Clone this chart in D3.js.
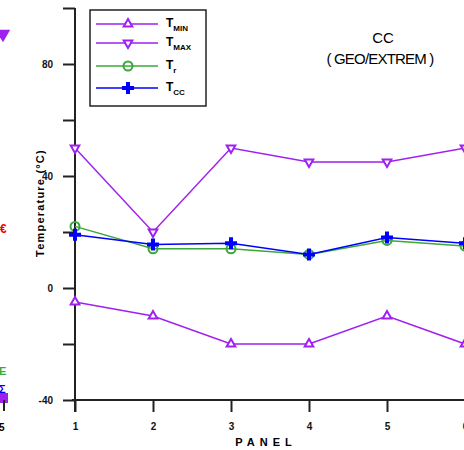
<title>CC (GEO/EXTREM) temperatures</title>
<script src="https://d3js.org/d3.v7.min.js"></script>
<style>
    body {
        margin: 0;
        background: #fff;
        font-family: "Liberation Sans", Arial, sans-serif;
    }
</style>
<body></body>
<script>
    // panel numbers along the x axis
    var panels = [1, 2, 3, 4, 5, 6];
    // temperatures (deg C)
    var tMin = [-5, -10, -20, -20, -10, -20];
    var tMax = [50, 20, 50, 45, 45, 50];
    var tR = [22, 14, 14, 12, 17, 15];
    var tCc = [19, 15.5, 16, 12, 18, 16];
    var yTicks = [-40, -20, 0, 20, 40, 60, 80, 100];
    var yLabels = [-40, 0, 40, 80];

    var W = 464, H = 450;
    var purple = "#a020f0", green = "#3aa83a", blue = "#0000ff", axisCol = "#222";

    var svg = d3.select("body").append("svg")
        .attr("width", W).attr("height", H)
        .style("display", "block");

    var x = d3.scaleLinear().domain([1, 6]).range([75, 465]);
    var y = d3.scaleLinear().domain([-40, 100]).range([400, 8]);

    // bits of the neighbouring panel that show on the left edge
    var edge = svg.append("g");
    edge.append("path").attr("d", d3.symbol(d3.symbolTriangle, 90)())
        .attr("transform", "translate(3,34) rotate(180)").attr("fill", purple);
    edge.append("text").attr("x", 0).attr("y", 233).text("€")
        .attr("fill", "#e00").attr("font-size", 12).attr("font-weight", "bold");
    edge.append("text").attr("x", -1).attr("y", 375).text("E")
        .attr("fill", green).attr("font-size", 11).attr("font-weight", "bold");
    edge.append("text").attr("x", -1).attr("y", 393).text("Σ")
        .attr("fill", blue).attr("font-size", 11).attr("font-weight", "bold");
    edge.append("rect").attr("x", 0).attr("y", 393).attr("width", 8).attr("height", 10).attr("fill", purple);
    edge.append("line").attr("x1", 4).attr("x2", 4).attr("y1", 400).attr("y2", 411)
        .attr("stroke", axisCol).attr("stroke-width", 2);
    edge.append("text").attr("x", -1).attr("y", 431).text("5")
        .attr("font-size", 10).attr("font-weight", "bold");

    // axes
    var yAxis = d3.axisLeft(y).tickValues(yTicks).tickSize(12)
        .tickFormat(function (d) { return yLabels.indexOf(d) >= 0 ? d : ""; });
    var gy = svg.append("g").attr("transform", "translate(75,0)").call(yAxis);
    var xAxis = d3.axisBottom(x).tickValues(panels).tickSize(12).tickSizeOuter(0)
        .tickFormat(d3.format("d"));
    var gx = svg.append("g").attr("transform", "translate(0,400)").call(xAxis);
    [gx, gy].forEach(function (g) {
        g.select(".domain").attr("stroke", axisCol).attr("stroke-width", 2);
        g.selectAll(".tick line").attr("stroke", axisCol).attr("stroke-width", 2);
        g.selectAll("text").attr("font-size", 10).attr("font-weight", "bold").attr("fill", "#111");
    });
    gy.select(".domain").attr("d", "M0," + y(100) + "V" + (y(-40) + 12));
    gy.selectAll(".tick text").attr("x", -22);
    gx.select(".domain").attr("d", "M" + (x(1) - 3) + ",0H" + W);
    gx.selectAll(".tick text").attr("y", 23);

    svg.append("text")
        .attr("transform", "translate(44,203) rotate(-90)")
        .attr("text-anchor", "middle")
        .attr("font-size", 11).attr("font-weight", "bold")
        .attr("letter-spacing", 1.2)
        .text("Temperature (°C)");

    svg.append("text").attr("x", 266).attr("y", 446)
        .attr("text-anchor", "middle").attr("font-size", 11).attr("font-weight", "bold")
        .attr("letter-spacing", 5).text("PANEL");

    svg.append("text").attr("x", 383).attr("y", 43).attr("text-anchor", "middle")
        .attr("font-size", 15).text("CC");
    svg.append("text").attr("x", 380).attr("y", 64).attr("text-anchor", "middle")
        .attr("font-size", 15).attr("letter-spacing", -0.8).text("( GEO/EXTREM )");

    // series
    var series = [
        { name: "MIN", values: tMin, color: purple, marker: "up" },
        { name: "MAX", values: tMax, color: purple, marker: "down" },
        { name: "r", values: tR, color: green, marker: "circle" },
        { name: "CC", values: tCc, color: blue, marker: "plus" }
    ];

    var line = d3.line().x(function (d, i) { return x(panels[i]); }).y(function (d) { return y(d); });

    function drawMarker(g, kind, color) {
        if (kind === "up" || kind === "down") {
            g.append("path").attr("d", d3.symbol(d3.symbolTriangle, 32)())
                .attr("transform", kind === "down" ? "rotate(180)" : null)
                .attr("fill", "#fff").attr("stroke", color).attr("stroke-width", 2);
        } else if (kind === "circle") {
            g.append("circle").attr("r", 4.5).attr("fill", "none")
                .attr("stroke", color).attr("stroke-width", 2);
        } else {
            g.append("path").attr("d", "M-6,0H6M0,-6V6")
                .attr("stroke", color).attr("stroke-width", 4);
        }
    }

    var plot = svg.append("g");
    series.forEach(function (s) {
        plot.append("path").datum(s.values)
            .attr("d", line).attr("fill", "none")
            .attr("stroke", s.color).attr("stroke-width", 1.5);
    });
    series.forEach(function (s) {
        s.values.forEach(function (v, i) {
            var g = plot.append("g").attr("transform", "translate(" + x(panels[i]) + "," + y(v) + ")");
            drawMarker(g, s.marker, s.color);
        });
    });

    // legend
    var leg = svg.append("g");
    leg.append("rect").attr("x", 90).attr("y", 10).attr("width", 116).attr("height", 96)
        .attr("fill", "#fff").attr("stroke", axisCol).attr("stroke-width", 1.5);
    var rowY = [24, 43, 66, 88];
    series.forEach(function (s, i) {
        leg.append("line").attr("x1", 96).attr("x2", 158).attr("y1", rowY[i]).attr("y2", rowY[i])
            .attr("stroke", s.color).attr("stroke-width", 1.5);
        var g = leg.append("g").attr("transform", "translate(128," + rowY[i] + ")");
        drawMarker(g, s.marker, s.color);
        var t = leg.append("text").attr("x", 166).attr("y", rowY[i] + 3)
            .attr("font-size", 12).attr("font-weight", "bold");
        t.append("tspan").text("T");
        t.append("tspan").attr("dy", 4).attr("font-size", 8).text(s.name);
    });
</script>
